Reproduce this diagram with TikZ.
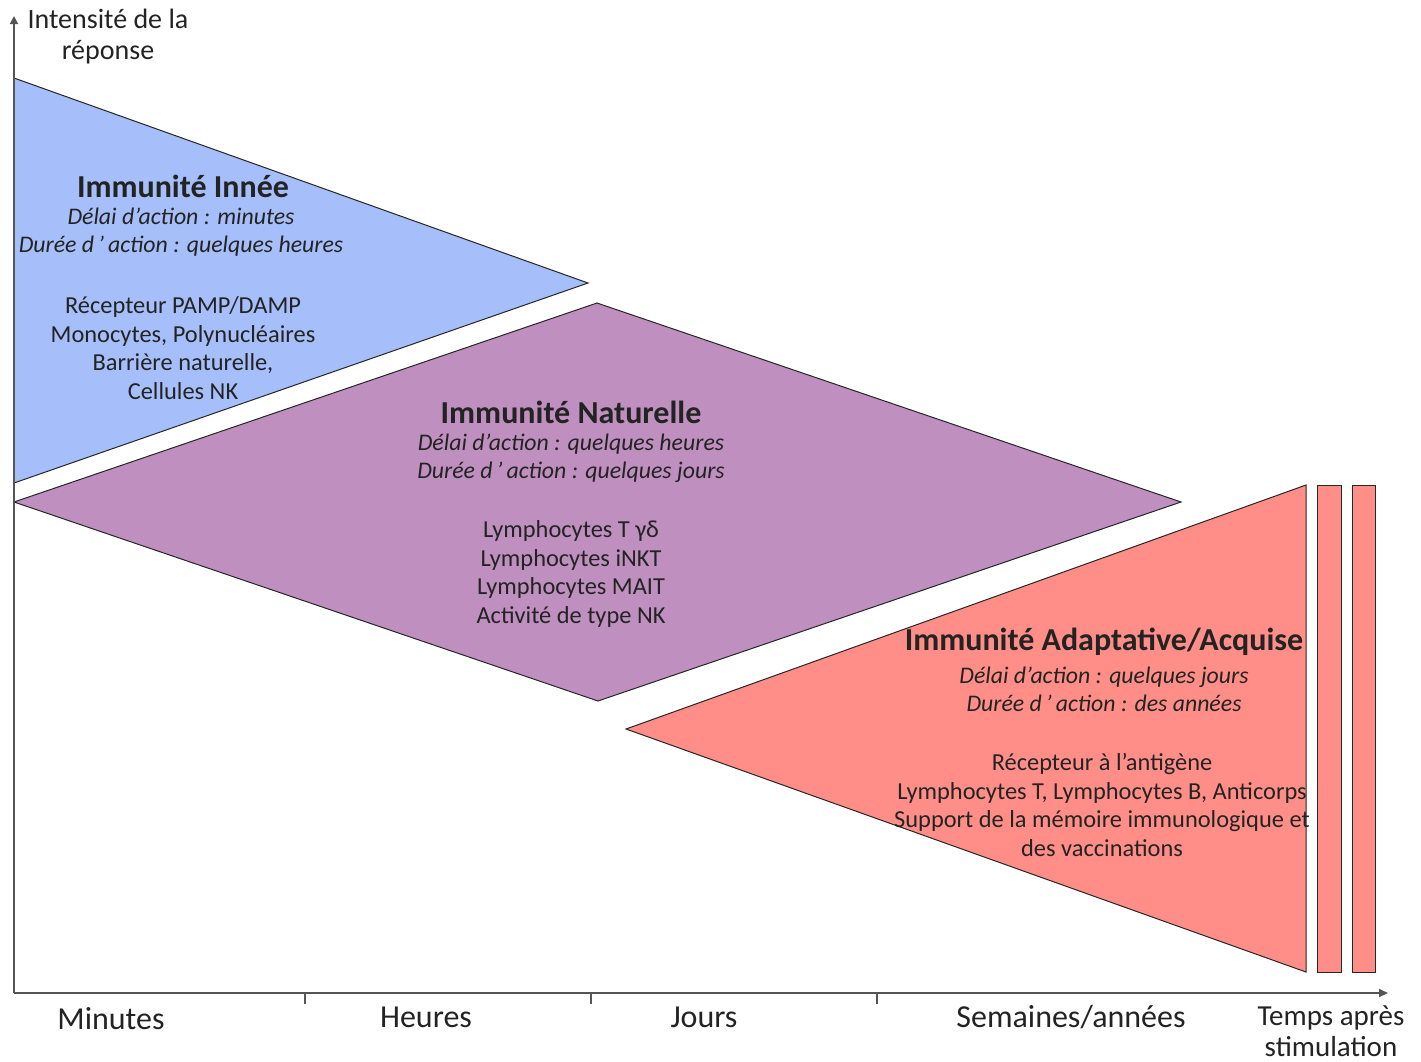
\documentclass[tikz,border=0pt]{standalone}
\usepackage{fontspec}
\setmainfont{Carlito}
\usepackage{tikz}
\usetikzlibrary{arrows.meta, positioning}
\definecolor{inneeblue}{RGB}{166,191,250}
\definecolor{natpurple}{RGB}{191,143,191}
\definecolor{adaptred}{RGB}{255,142,136}
\definecolor{axisgray}{RGB}{85,85,85}
\definecolor{txtgray}{RGB}{35,35,35}

\begin{document}
\begin{tikzpicture}[x=1pt,y=-1pt,
    zone/.style={draw=black!85,line width=1pt},
    titre/.style={font=\fontsize{32}{34}\selectfont\bfseries,text=txtgray,inner sep=0pt},
    delai/.style={font=\fontsize{23.8}{28}\selectfont\itshape,text=txtgray,align=center,inner sep=0pt},
    liste/.style={font=\fontsize{24.4}{28.5}\selectfont,text=txtgray,align=center,inner sep=0pt},
    axe/.style={font=\fontsize{32}{31}\selectfont,text=txtgray,align=center,inner sep=0pt}]

    \useasboundingbox (0,0) rectangle (1421,1061);

    % zones
    \filldraw[zone,fill=inneeblue] (14,78) -- (588,283) -- (14,483) -- cycle;
    \filldraw[zone,fill=natpurple] (14,502) -- (597,303) -- (1181,502) -- (598,701) -- cycle;
    \filldraw[zone,fill=adaptred] (626,729) -- (1306,485) -- (1306,972) -- cycle;
    \filldraw[zone,fill=adaptred] (1317,485) rectangle (1341,972);
    \filldraw[zone,fill=adaptred] (1352,485) rectangle (1375,972);

    % axes
    \coordinate (origin) at (14,993);
    \coordinate (ytop) at (14,16);
    \coordinate (xend) at (1388,993);
    \draw[axisgray,line width=1.8pt,-{Triangle[length=8pt,width=8pt]}] (origin) -- (ytop);
    \draw[axisgray,line width=1.8pt,-{Triangle[length=9pt,width=8pt]}] (origin) -- (xend);
    \foreach \tx in {305,591,877}
      \draw[axisgray,line width=1.5pt] (\tx,993) -- (\tx,1004);

    \node[axe,font=\fontsize{28}{31}\selectfont] (ylabel) at (108,37) {Intensité de la\\réponse};
    \node[axe] (minutes) at (111,1019) {Minutes};
    \node[axe] (heures) at (426,1017) {Heures};
    \node[axe] (jours) at (704,1017) {Jours};
    \node[axe] (semaines) at (1071,1017) {Semaines/années};
    \node[axe,font=\fontsize{29}{31}\selectfont] (temps) at (1331,1031) {Temps après\\stimulation};

    % immunite innee
    \node[titre] (innee) at (183,186) {Immunité Innée};
    \node[delai] (innee-d) at (181,232) {Délai d’action : minutes\\Durée d\,’\,action : quelques heures};
    \node[liste] (innee-l) at (183,348) {Récepteur PAMP/DAMP\\Monocytes, Polynucléaires\\Barrière naturelle,\\Cellules NK};

    % immunite naturelle
    \node[titre] (nat) at (571,412) {Immunité Naturelle};
    \node[delai] (nat-d) at (571,458) {Délai d’action : quelques heures\\Durée d\,’\,action : quelques jours};
    \node[liste] (nat-l) at (571,574) {Lymphocytes T γδ\\Lymphocytes iNKT\\Lymphocytes MAIT\\Activité de type NK};

    % immunite adaptative
    \node[titre] (adapt) at (1104,642) {Immunité Adaptative/Acquise};
    \node[delai] (adapt-d) at (1104,689) {Délai d’action : quelques jours\\Durée d\,’\,action : des années};
    \node[liste] (adapt-l) at (1102,805) {Récepteur à l’antigène\\Lymphocytes T, Lymphocytes B, Anticorps\\Support de la mémoire immunologique et\\des vaccinations};
\end{tikzpicture}
\end{document}
